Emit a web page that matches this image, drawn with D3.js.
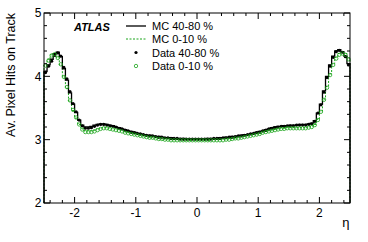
<!DOCTYPE html>
<html>
<head>
<meta charset="utf-8">
<script src="https://cdn.jsdelivr.net/npm/d3@7"></script>
<style>
  body { margin: 0; background: #fff; }
  svg { display: block; font-family: "Liberation Sans", Arial, sans-serif; }
</style>
</head>
<body>
<div id="chart"></div>
<script>
const width = 368, height = 242;
const margin = {top: 13, right: 18, bottom: 39, left: 44};

// bin edges in eta: 100 bins of 0.05 from -2.5 to 2.5
const binEdges = d3.range(0, 101).map(i => -2.5 + i * 0.05);

const mcPeripheral = [
  4.08, 4.18, 4.27, 4.36, 4.38, 4.31, 4.12, 3.94, 3.74, 3.56,
  3.43, 3.31, 3.23, 3.20, 3.20, 3.21, 3.23, 3.24, 3.25, 3.25,
  3.24, 3.23, 3.22, 3.20, 3.19, 3.17, 3.16, 3.14, 3.13, 3.12,
  3.10, 3.09, 3.08, 3.07, 3.07, 3.06, 3.05, 3.05, 3.04, 3.03,
  3.03, 3.03, 3.02, 3.02, 3.02, 3.02, 3.01, 3.01, 3.01, 3.01,
  3.01, 3.01, 3.01, 3.02, 3.02, 3.02, 3.02, 3.03, 3.03, 3.04,
  3.04, 3.05, 3.05, 3.06, 3.07, 3.08, 3.08, 3.09, 3.10, 3.12,
  3.13, 3.14, 3.16, 3.17, 3.19, 3.20, 3.21, 3.21, 3.22, 3.22,
  3.23, 3.23, 3.23, 3.24, 3.24, 3.24, 3.25, 3.26, 3.30, 3.42,
  3.56, 3.77, 4.00, 4.18, 4.32, 4.40, 4.42, 4.39, 4.32, 4.20
];
const mcCentral = [
  4.18, 4.27, 4.34, 4.36, 4.30, 4.18, 3.99, 3.81, 3.61, 3.46,
  3.34, 3.24, 3.17, 3.14, 3.14, 3.14, 3.15, 3.17, 3.18, 3.19,
  3.19, 3.18, 3.17, 3.16, 3.15, 3.14, 3.12, 3.11, 3.10, 3.09,
  3.08, 3.07, 3.06, 3.05, 3.04, 3.03, 3.03, 3.02, 3.01, 3.01,
  3.01, 3.00, 3.00, 3.00, 3.00, 2.99, 2.99, 2.99, 2.99, 2.99,
  2.99, 2.99, 2.99, 2.99, 3.00, 3.00, 3.00, 3.00, 3.01, 3.01,
  3.01, 3.02, 3.02, 3.03, 3.04, 3.05, 3.06, 3.07, 3.08, 3.09,
  3.10, 3.12, 3.13, 3.14, 3.15, 3.16, 3.17, 3.18, 3.18, 3.19,
  3.19, 3.19, 3.19, 3.19, 3.19, 3.19, 3.20, 3.21, 3.24, 3.32,
  3.45, 3.64, 3.84, 4.04, 4.20, 4.30, 4.36, 4.38, 4.36, 4.29
];
const dataPeripheral = [
  4.06, 4.16, 4.24, 4.33, 4.37, 4.32, 4.14, 3.96, 3.76, 3.57,
  3.44, 3.31, 3.22, 3.18, 3.18, 3.19, 3.21, 3.23, 3.24, 3.24,
  3.23, 3.22, 3.21, 3.20, 3.18, 3.17, 3.15, 3.14, 3.12, 3.11,
  3.10, 3.09, 3.08, 3.07, 3.06, 3.06, 3.05, 3.04, 3.04, 3.03,
  3.03, 3.02, 3.02, 3.02, 3.01, 3.01, 3.01, 3.01, 3.01, 3.01,
  3.01, 3.01, 3.01, 3.01, 3.01, 3.02, 3.02, 3.02, 3.03, 3.03,
  3.04, 3.04, 3.05, 3.06, 3.06, 3.07, 3.08, 3.09, 3.10, 3.11,
  3.12, 3.14, 3.15, 3.17, 3.18, 3.19, 3.20, 3.21, 3.21, 3.22,
  3.22, 3.22, 3.23, 3.23, 3.23, 3.23, 3.24, 3.25, 3.29, 3.42,
  3.55, 3.75, 3.98, 4.16, 4.30, 4.39, 4.41, 4.38, 4.31, 4.18
];
const dataCentral = [
  4.17, 4.25, 4.33, 4.35, 4.29, 4.19, 3.99, 3.83, 3.62, 3.47,
  3.35, 3.24, 3.16, 3.12, 3.12, 3.12, 3.13, 3.15, 3.17, 3.18,
  3.18, 3.17, 3.16, 3.15, 3.14, 3.13, 3.11, 3.10, 3.09, 3.08,
  3.07, 3.06, 3.05, 3.04, 3.03, 3.03, 3.02, 3.01, 3.01, 3.00,
  3.00, 2.99, 2.99, 2.99, 2.99, 2.99, 2.99, 2.99, 2.99, 2.99,
  2.99, 2.99, 2.99, 2.99, 2.99, 2.99, 2.99, 2.99, 2.99, 3.00,
  3.00, 3.01, 3.02, 3.02, 3.03, 3.04, 3.05, 3.06, 3.07, 3.08,
  3.09, 3.11, 3.12, 3.13, 3.14, 3.15, 3.16, 3.17, 3.17, 3.18,
  3.18, 3.18, 3.18, 3.18, 3.18, 3.18, 3.19, 3.20, 3.23, 3.31,
  3.44, 3.63, 3.82, 4.02, 4.18, 4.28, 4.34, 4.36, 4.34, 4.27
];

const xMajor = [-2, -1, 0, 1, 2];
const yMajor = [2, 3, 4, 5];
const legendLabels = ['MC 40-80 %', 'MC 0-10 %', 'Data 40-80 %', 'Data 0-10 %'];

const green = '#1aa51a';

const svg = d3.select('#chart').append('svg')
    .attr('width', width)
    .attr('height', height);

const x = d3.scaleLinear().domain([-2.5, 2.5]).range([margin.left, width - margin.right]);
const y = d3.scaleLinear().domain([2, 5]).range([height - margin.bottom, margin.top]);

const plot = svg.append('g');

// histogram outline: steps at bin edges, dropping to the baseline at both ends
const stepLine = d3.line()
    .x(d => x(d[0]))
    .y(d => y(d[1]))
    .curve(d3.curveStepAfter);

const histPoints = vals => {
  const pts = [[binEdges[0], 2]];
  vals.forEach((v, i) => pts.push([binEdges[i], v]));
  pts.push([binEdges[vals.length], vals[vals.length - 1]]);
  pts.push([binEdges[vals.length], 2]);
  return pts;
};

plot.append('path')
    .attr('d', stepLine(histPoints(mcCentral)))
    .attr('fill', 'none')
    .attr('stroke', green)
    .attr('stroke-width', 1)
    .attr('stroke-dasharray', '2 1.5');

plot.append('path')
    .attr('d', stepLine(histPoints(mcPeripheral)))
    .attr('fill', 'none')
    .attr('stroke', '#000')
    .attr('stroke-width', 1.3);

const centers = mcPeripheral.map((d, i) => (binEdges[i] + binEdges[i + 1]) / 2);

plot.selectAll('circle.peri')
  .data(dataPeripheral)
  .join('circle')
    .attr('class', 'peri')
    .attr('cx', (d, i) => x(centers[i]))
    .attr('cy', d => y(d))
    .attr('r', 1.6)
    .attr('fill', '#000');

plot.selectAll('circle.cent')
  .data(dataCentral)
  .join('circle')
    .attr('class', 'cent')
    .attr('cx', (d, i) => x(centers[i]))
    .attr('cy', d => y(d))
    .attr('r', 1.7)
    .attr('fill', 'none')
    .attr('stroke', green)
    .attr('stroke-width', 0.8);

// frame and ticks (ROOT style, ticks on all four sides)
const axes = svg.append('g').attr('stroke', '#000').attr('stroke-width', 1);
const x0 = x.range()[0], x1 = x.range()[1], y0 = y.range()[0], y1 = y.range()[1];
axes.append('rect')
    .attr('x', x0).attr('y', y1)
    .attr('width', x1 - x0).attr('height', y0 - y1)
    .attr('fill', 'none');

const xTicks = d3.range(-24, 25, 2).map(d => d / 10);
xTicks.forEach(t => {
  const len = xMajor.includes(t) ? 6 : 3;
  axes.append('line').attr('x1', x(t)).attr('x2', x(t)).attr('y1', y0).attr('y2', y0 - len);
  axes.append('line').attr('x1', x(t)).attr('x2', x(t)).attr('y1', y1).attr('y2', y1 + len);
});
const yTicks = d3.range(20, 51, 2).map(d => d / 10);
yTicks.forEach(t => {
  const len = yMajor.includes(t) ? 6 : 3;
  axes.append('line').attr('y1', y(t)).attr('y2', y(t)).attr('x1', x0).attr('x2', x0 + len);
  axes.append('line').attr('y1', y(t)).attr('y2', y(t)).attr('x1', x1).attr('x2', x1 - len);
});

svg.append('g').selectAll('text')
  .data(xMajor)
  .join('text')
    .attr('x', d => x(d))
    .attr('y', y0 + 13.5)
    .attr('text-anchor', 'middle')
    .attr('font-size', 12)
    .text(d => d < 0 ? '-' + Math.abs(d) : d);

svg.append('g').selectAll('text')
  .data(yMajor)
  .join('text')
    .attr('x', x0 - 2.5)
    .attr('y', d => y(d) + 4.3)
    .attr('text-anchor', 'end')
    .attr('font-size', 12)
    .text(d => d);

svg.append('text')
    .attr('x', x1 - 0.5)
    .attr('y', y0 + 24)
    .attr('text-anchor', 'end')
    .attr('font-size', 13)
    .text('η');

svg.append('text')
    .attr('transform', `translate(14.5,${y1}) rotate(-90)`)
    .attr('text-anchor', 'end')
    .attr('font-size', 12.5)
    .text('Av. Pixel Hits on Track');

// legend
svg.append('text')
    .attr('x', 74)
    .attr('y', 30.5)
    .attr('font-size', 11)
    .attr('font-weight', 'bold')
    .attr('font-style', 'italic')
    .text('ATLAS');

const legendY = [30, 43, 56.5, 70];
const leg = svg.append('g');
leg.selectAll('text')
  .data(legendLabels)
  .join('text')
    .attr('x', 152)
    .attr('y', (d, i) => legendY[i])
    .attr('font-size', 11)
    .text(d => d);

leg.append('line')
    .attr('x1', 126).attr('x2', 146)
    .attr('y1', legendY[0] - 4).attr('y2', legendY[0] - 4)
    .attr('stroke', '#000').attr('stroke-width', 1.3);
leg.append('line')
    .attr('x1', 126).attr('x2', 146)
    .attr('y1', legendY[1] - 4).attr('y2', legendY[1] - 4)
    .attr('stroke', green).attr('stroke-width', 1)
    .attr('stroke-dasharray', '2 1.5');
leg.append('circle')
    .attr('cx', 136).attr('cy', legendY[2] - 4)
    .attr('r', 1.6).attr('fill', '#000');
leg.append('circle')
    .attr('cx', 136).attr('cy', legendY[3] - 4)
    .attr('r', 1.7).attr('fill', 'none')
    .attr('stroke', green).attr('stroke-width', 0.8);
</script>
</body>
</html>
